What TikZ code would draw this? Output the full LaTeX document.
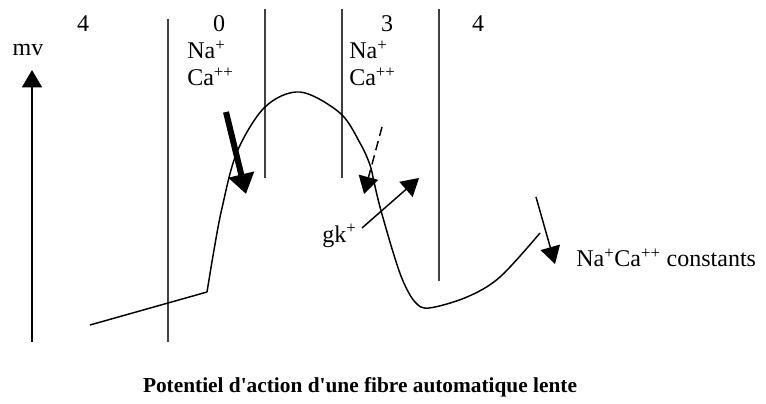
\documentclass[tikz,border=0pt]{standalone}
\usepackage{fontspec}
\setmainfont{Liberation Serif}
\usetikzlibrary{arrows.meta,calc}
\begin{document}
\begin{tikzpicture}[x=0.75pt,y=-0.75pt,
  lbl/.style={inner sep=0pt,font=\fontsize{18}{20}\selectfont},
  sep/.style={line width=1.4pt,draw=black!75},
  thin/.style={line width=1.1pt},
  head/.style={-{Triangle[width=15pt,length=13pt]}}]
\useasboundingbox (0,0) rectangle (766,403);
% axis
\coordinate (a0) at (32,342);
\coordinate (a1) at (32,70);
\draw[thin,head] (a0) -- (a1);
\node[lbl] (mv) at (28,50) {mv};
% separators
\coordinate (s1a) at (168,19); \coordinate (s1b) at (168,342);
\coordinate (s2a) at (265,9);  \coordinate (s2b) at (265,178);
\coordinate (s3a) at (342,9);  \coordinate (s3b) at (342,178);
\coordinate (s4a) at (439,9);  \coordinate (s4b) at (439,281);
\draw[sep] (s1a) -- (s1b);
\draw[sep] (s2a) -- (s2b);
\draw[sep] (s3a) -- (s3b);
\draw[sep] (s4a) -- (s4b);
% phase numbers
\node[lbl] (p4a) at (83,24) {4};
\node[lbl] (p0) at (219,24) {0};
\node[lbl] (p3) at (387,24) {3};
\node[lbl] (p4b) at (478,24) {4};
% ions
\node[lbl,anchor=west] (na1) at (187,50) {Na\textsuperscript{+}};
\node[lbl,anchor=west] (ca1) at (187,77) {Ca\textsuperscript{++}};
\node[lbl,anchor=west] (na2) at (349,50) {Na\textsuperscript{+}};
\node[lbl,anchor=west] (ca2) at (349,77) {Ca\textsuperscript{++}};
% action potential curve
\draw[thin] (90,325) -- (207,292);
\draw[thin] plot[smooth,tension=0.55] coordinates {(207,292) (214,250) (222,208) (237,152) (265,107) (300,92) (340,113) (360,143) (370,165) (374,182) (380,207) (393,252) (403,281) (415,302) (429,308) (467,297) (500,277) (540,233)};
% thick arrow
\coordinate (t0) at (226,112);
\coordinate (t1) at (246,194);
\draw[line width=4.5pt,-{Triangle[width=19pt,length=15pt]}] (t0) -- (t1);
% dashed arrow
\coordinate (d0) at (382,127);
\coordinate (d1) at (364,194);
\coordinate (dm) at ($(d0)!0.7!(d1)$);
\draw[thin,dash pattern=on 7pt off 4pt] (d0) -- (dm);
\draw[thin,-{Triangle[width=15pt,length=13pt]}] (dm) -- (d1);
% gk arrow
\node[lbl,anchor=west] (gk) at (322,236) {gk\textsuperscript{+}};
\coordinate (g0) at (362,228);
\coordinate (g1) at (419,178);
\draw[thin,head] (g0) -- (g1);
% right arrow
\coordinate (r0) at (536,197);
\coordinate (r1) at (555,264);
\draw[thin,head] (r0) -- (r1);
\node[lbl,anchor=west] (cst) at (576,258) {Na\textsuperscript{+}Ca\textsuperscript{++} constants};
% title
\node[inner sep=0pt,font=\fontsize{16}{18}\selectfont\bfseries] (title) at (360,387) {Potentiel d\textquotesingle action d\textquotesingle une fibre automatique lente};
\end{tikzpicture}
\end{document}
